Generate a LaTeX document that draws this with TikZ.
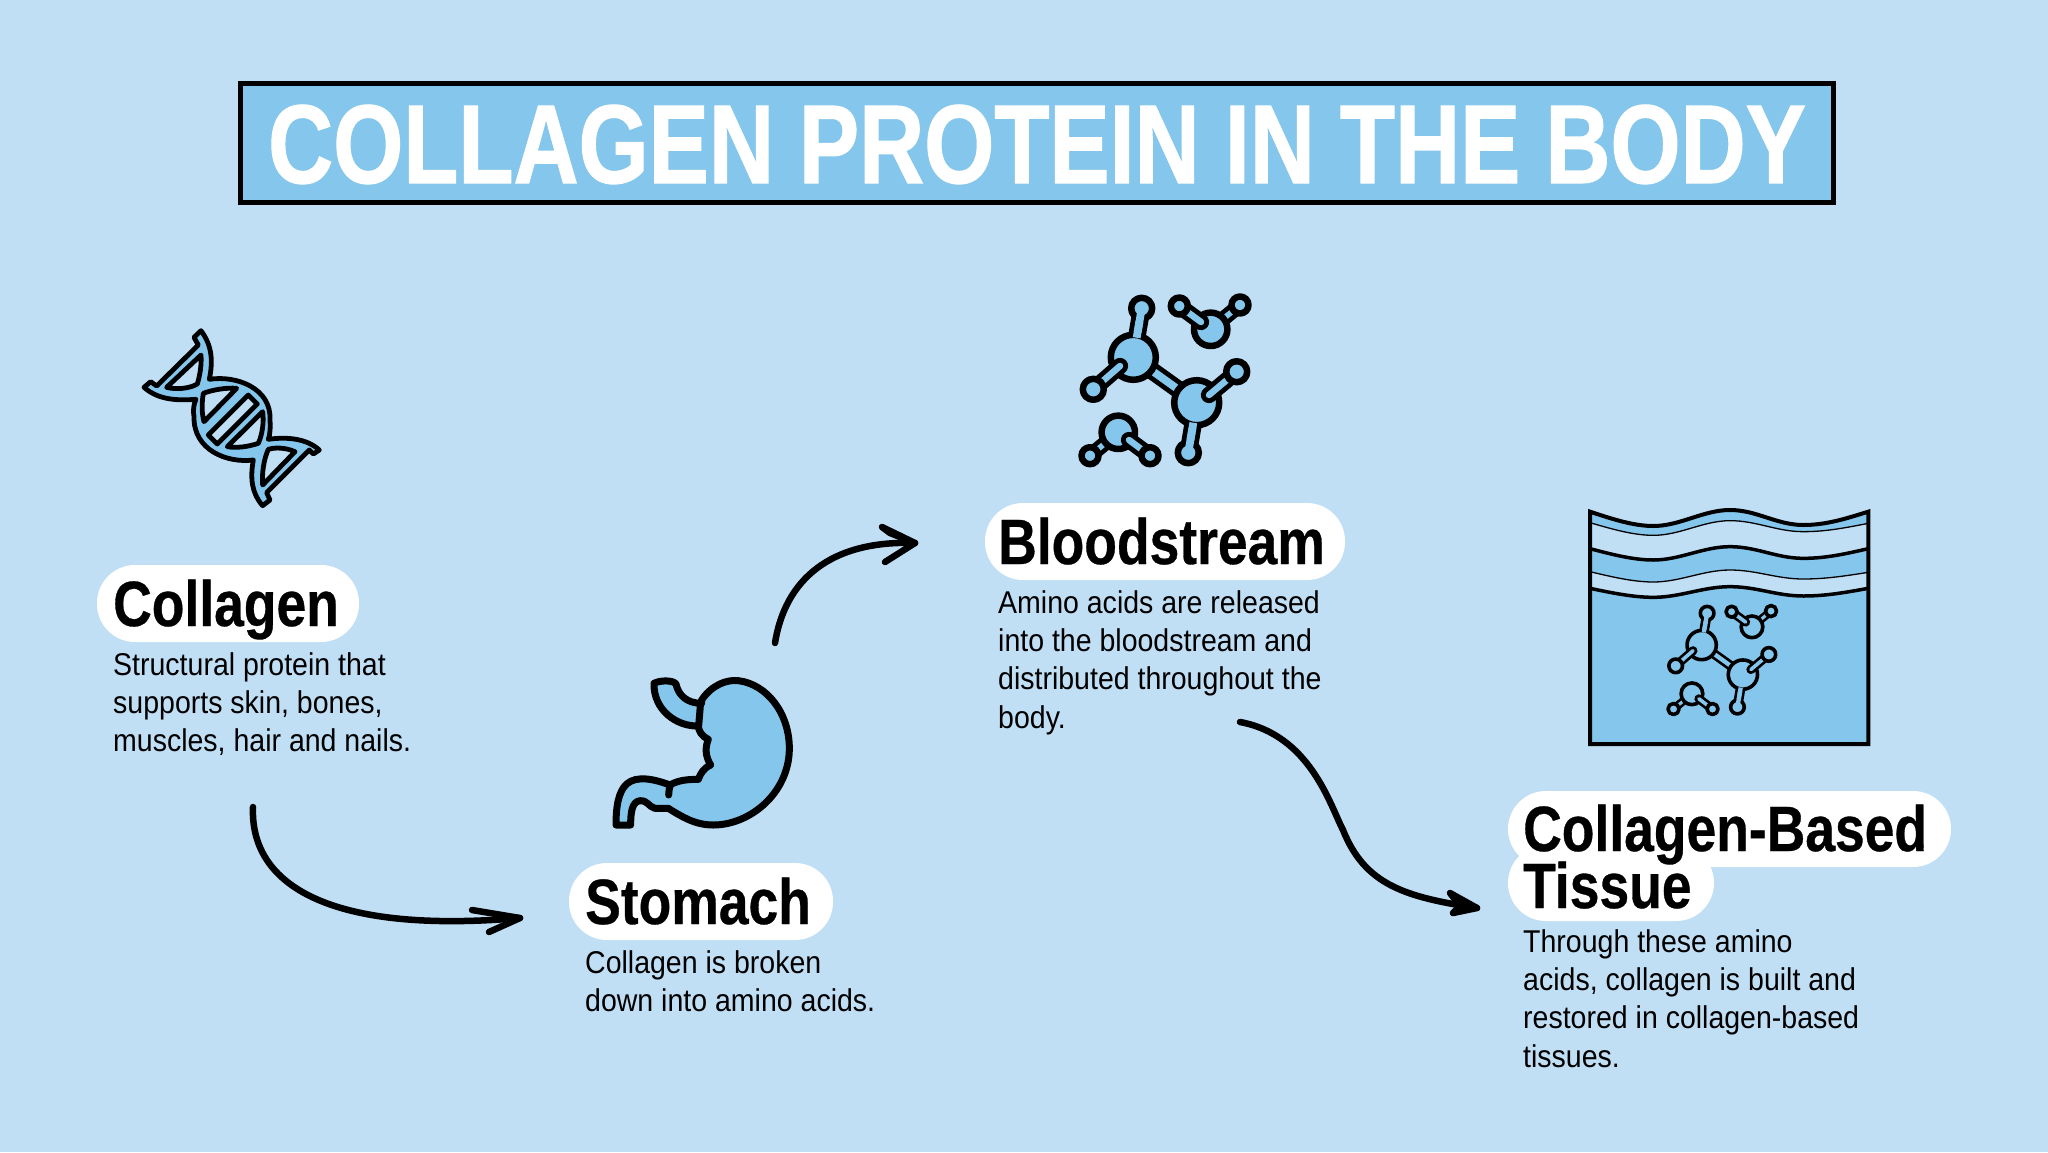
\documentclass[tikz,border=0pt]{standalone}
\usetikzlibrary{calc}
\usepackage{fontspec}
\setmainfont{Liberation Sans}
\newfontfamily\headf[FakeStretch=0.835,FakeBold=0.5]{Liberation Sans}
\newfontfamily\titlef[FakeStretch=0.805,FakeBold=1]{Liberation Sans}
\newfontfamily\bodyf[FakeStretch=0.905]{Liberation Sans}
\definecolor{bgc}{HTML}{C0DFF5}
\definecolor{fillc}{HTML}{85C6EC}
\tikzset{
 x=1pt,y=-1pt,
 pill/.style={fill=white,rounded corners=38pt,draw=none,inner sep=0pt},
 head/.style={font=\headf\bfseries\fontsize{64}{64}\selectfont,anchor=base west,inner sep=0pt},
 bodytext/.style={font=\bodyf\fontsize{31.5}{38.4}\selectfont,anchor=north west,align=left,inner sep=0pt},
 conn/.style={line width=6.5pt,line cap=round,line join=round},
 icon/.style={draw=black,fill=fillc,line join=round},
}
\newcommand{\bondpair}[4]{% lw black, lw fill, from, to
 \draw[line width=#1,line cap=round] #3 -- #4;
 \draw[line width=#2,draw=fillc,line cap=round] #3 -- #4;}
\newcommand{\molecule}[1]{%
 \begin{scope}[line width=#1,draw=black,fill=fillc,line join=round]
  \coordinate (mA) at (1133.3,357.3);
  \coordinate (mB) at (1196.7,402.7);
  \coordinate (mC) at (1141.7,308.3);
  \coordinate (mD) at (1093.3,389.3);
  \coordinate (mE) at (1236.7,371.7);
  \coordinate (mF) at (1188.3,452.7);
  \coordinate (mG) at (1179.3,306);
  \coordinate (mH) at (1240,305);
  \coordinate (mI) at (1210.7,329.3);
  \coordinate (mJ) at (1118.3,432.3);
  \coordinate (mK) at (1090,455.7);
  \coordinate (mL) at (1150,455.7);
  \draw[line width=2.7*#1] (mA) -- (mC);
  \draw[line width=2.7*#1] (mA) -- (mB);
  \draw[line width=2.7*#1] (mB) -- (mF);
  \draw[line width=2.3*#1] (mI) -- (mH);
  \draw[line width=2.3*#1] (mJ) -- (mK);
  \draw[line width=1.2*#1,draw=fillc] (mA) -- (mB);
  \draw[line width=1.2*#1,draw=fillc] (mA) -- (mC);
  \draw[line width=1.2*#1,draw=fillc] (mB) -- (mF);
  \draw[line width=0.85*#1,draw=fillc] (mI) -- (mH);
  \draw[line width=0.85*#1,draw=fillc] (mJ) -- (mK);
  \filldraw (mA) circle (22.5);
  \filldraw (mB) circle (22.5);
  \filldraw (mI) circle (16.7);
  \filldraw (mJ) circle (16.7);
  \filldraw (mC) circle (10.5);
  \filldraw (mF) circle (10.5);
  \bondpair{2.5*#1}{1*#1}{(mD)}{(1120,366)}
  \bondpair{2.5*#1}{1*#1}{(mE)}{(1209,395)}
  \bondpair{2.5*#1}{1*#1}{(mG)}{(1201,322)}
  \bondpair{2.5*#1}{1*#1}{(mL)}{(1129,440)}
  \filldraw (mD) circle (10.5);
  \filldraw (mE) circle (10.5);
  \filldraw (mG) circle (8.5);
  \filldraw (mH) circle (8.5);
  \filldraw (mK) circle (8.5);
  \filldraw (mL) circle (8.5);
  \draw[line width=1.2*#1,draw=fillc,line cap=butt] ($(mC)!0.6!(mA)$) -- (mC);
  \draw[line width=1.2*#1,draw=fillc,line cap=butt] ($(mF)!0.6!(mB)$) -- (mF);
 \end{scope}}
% wave through left end, first trough, crest, second trough, right end
\newcommand{\wavep}[5]{(60,#1) .. controls (125,#1/2+#2/2) and (190,#2) .. (250,#2) .. controls (330,#2) and (400,#3) .. (480,#3) .. controls (560,#3) and (620,#4) .. (700,#4) .. controls (770,#4) and (830,#4/2+#5/2) .. (895,#5)}
\begin{document}
\begin{tikzpicture}
\useasboundingbox (0,0) rectangle (2048,1152);
\fill[bgc] (0,0) rectangle (2048,1152);

% title
\node[draw=black,fill=fillc,line width=5pt,minimum width=1593pt,minimum height=119pt,inner sep=0pt] (title) at (1037,143) {};
\node[font=\titlef\bfseries\fontsize{112}{112}\selectfont,text=white,inner sep=0pt,anchor=base] (titletext) at (1037,183) {COLLAGEN PROTEIN IN THE BODY};

% DNA icon
\begin{scope}[shift={(120,310)},scale=1/3]
 \path[icon,line width=4.8pt,even odd rule]
  (243,62) .. controls (275,105) and (280,150) .. (268,208)
  .. controls (350,195) and (455,235) .. (450,330)
  .. controls (452,350) and (450,375) .. (445,388)
  .. controls (500,380) and (560,385) .. (598,420)
  -- (580,432) -- (568,420) -- (440,548) -- (450,570) -- (428,587)
  .. controls (395,550) and (390,505) .. (400,450)
  .. controls (320,460) and (220,420) .. (222,320)
  .. controls (218,300) and (222,280) .. (228,268)
  .. controls (170,272) and (115,270) .. (72,232)
  -- (92,215) -- (110,228) -- (235,105) -- (222,82) -- cycle
  (243,135) -- (140,232) .. controls (170,240) and (210,235) .. (232,222) .. controls (240,195) and (245,165) .. (243,135) -- cycle
  (350,235) .. controls (320,232) and (275,240) .. (250,250) .. controls (245,280) and (245,310) .. (252,335) -- cycle
  (385,255) -- (265,375) -- (292,402) -- (412,282) -- cycle
  (428,305) -- (322,410) .. controls (350,415) and (385,410) .. (415,400) .. controls (428,370) and (432,335) .. (428,305) -- cycle
  (525,425) .. controls (495,412) and (465,412) .. (445,418) .. controls (432,445) and (425,490) .. (428,525) -- cycle;
\end{scope}

% Molecule icon
\molecule{6.5pt}

% Stomach icon
\begin{scope}[shift={(590,660)},scale=1/3]
 \path[icon,line width=7pt]
  (335,120) .. controls (365,75) and (410,58) .. (445,62)
  .. controls (530,72) and (600,160) .. (598,270)
  .. controls (595,400) and (480,495) .. (370,495)
  .. controls (315,495) and (275,470) .. (235,445)
  -- (195,445) .. controls (175,440) and (175,422) .. (150,422)
  .. controls (125,425) and (122,460) .. (122,495)
  -- (78,495) .. controls (78,440) and (85,395) .. (110,372)
  .. controls (140,345) and (195,358) .. (240,375)
  .. controls (265,360) and (295,358) .. (325,358)
  .. controls (332,340) and (340,325) .. (362,315)
  .. controls (350,295) and (342,270) .. (355,238)
  .. controls (335,230) and (325,210) .. (325,198)
  .. controls (260,200) and (190,150) .. (192,70)
  .. controls (210,60) and (250,60) .. (258,72)
  .. controls (265,105) and (290,130) .. (335,130)
  -- cycle;
 \draw[line width=7pt,line cap=round] (332,125) -- (326,198);
 \draw[line width=7pt,line cap=round] (240,378) .. controls (238,385) and (236,395) .. (236,405);
\end{scope}

% Tissue icon
\begin{scope}[shift={(1570,490)},scale=1/3]
 \fill[fillc] \wavep{65}{108}{60}{105}{65} -- (895,762) -- (60,762) -- cycle;
 \fill[bgc] \wavep{98}{136}{92}{125}{100} -- (895,762) -- (60,762) -- cycle;
 \draw[line width=1.3pt] \wavep{98}{136}{92}{125}{100};
 \fill[fillc] \wavep{176}{210}{170}{205}{176} -- (895,762) -- (60,762) -- cycle;
 \draw[line width=3.5pt] \wavep{176}{210}{170}{205}{176};
 \fill[bgc] \wavep{245}{276}{240}{267}{247} -- (895,762) -- (60,762) -- cycle;
 \draw[line width=1.3pt] \wavep{245}{276}{240}{267}{247};
 \fill[fillc] \wavep{295}{322}{290}{318}{295} -- (895,762) -- (60,762) -- cycle;
 \draw[line width=3.5pt] \wavep{295}{322}{290}{318}{295};
 \draw[line width=4pt,line join=miter] \wavep{65}{108}{60}{105}{65} -- (895,762) -- (60,762) -- cycle;
\end{scope}
\begin{scope}[shift={(965,412.8)},scale=.65]
 \molecule{3.6pt}
\end{scope}

% pills
\node[pill,minimum width=262pt,minimum height=77pt] (pcol) at (228,603.5) {};
\node[pill,minimum width=264pt,minimum height=77pt] (psto) at (701,901.5) {};
\node[pill,minimum width=360pt,minimum height=77pt] (pblo) at (1165,541.5) {};
\node[pill,minimum width=443pt,minimum height=76pt] (pcb) at (1729.5,829) {};
\node[pill,minimum width=206pt,minimum height=76pt] (ptis) at (1611,883) {};

% headings
\node[head] (hcol) at (113,626) {Collagen};
\node[head] (hsto) at (585,924) {Stomach};
\node[head] (hblo) at (998,564) {Bloodstream};
\node[head] (hcb) at (1523,851) {Collagen-Based};
\node[head] (htis) at (1523,908) {Tissue};

% body texts
\node[bodytext] (bcol) at (113,652) {Structural protein that\\supports skin, bones,\\muscles, hair and nails.};
\node[bodytext] (bsto) at (585,950) {Collagen is broken\\down into amino acids.};
\node[bodytext] (bblo) at (998,590) {Amino acids are released\\into the bloodstream and\\distributed throughout the\\body.};
\node[bodytext] (bcb) at (1523,929) {Through these amino\\acids, collagen is built and\\restored in collagen-based\\tissues.};

% connectors
\coordinate (a1s) at (253,807);
\coordinate (a1e) at (520,918);
\coordinate (a1u) at (472,910);
\coordinate (a1l) at (489,932);
\draw[conn] (a1s) .. controls (250,880) and (320,935) .. (a1e);
\draw[conn] (a1u) -- (a1e) -- (a1l);

\coordinate (a2s) at (775,643);
\coordinate (a2e) at (915,543);
\coordinate (a2u) at (882,527);
\coordinate (a2l) at (885,562);
\draw[conn] (a2s) .. controls (785,580) and (830,540) .. (a2e);
\draw[conn,fill=black] (a2u) -- (a2e) -- (890,533) -- cycle;
\draw[conn] (a2e) -- (a2l);

\coordinate (a3s) at (1240,722);
\coordinate (a3e) at (1477,908);
\coordinate (a3u) at (1450,893);
\coordinate (a3l) at (1453,913);
\draw[conn] (a3s) .. controls (1310,735) and (1330,805) .. (1343,830) .. controls (1365,885) and (1405,897) .. (a3e);
\draw[conn,fill=black] (a3u) -- (a3e) -- (a3l) -- (1460,906) -- cycle;
\end{tikzpicture}
\end{document}
